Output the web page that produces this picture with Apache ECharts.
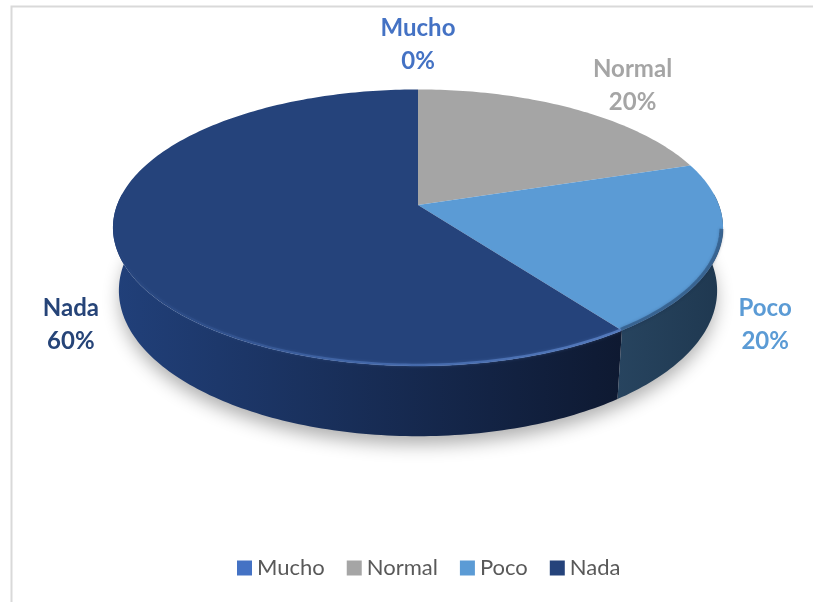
<!DOCTYPE html>
<html>
<head>
<meta charset="utf-8">
<title>Mucho / Normal / Poco / Nada</title>
<script src="https://cdn.jsdelivr.net/npm/echarts@6/dist/echarts.min.js"></script>
<style>
  html, body { margin: 0; padding: 0; background: #ffffff; }
  #chart { width: 813px; height: 602px; }
</style>
</head>
<body>
<div id="chart"></div>
<script>
// Survey answers and their share of responses (percent)
const categories = ['Mucho', 'Normal', 'Poco', 'Nada'];
const values = [0, 20, 20, 60];

// Colours per answer: top face, outer wall (left → right), label
const topColors = ['#4472C4', '#A5A5A5', '#5B9BD5', '#25437B'];
const wallColors = [
  ['#2f4f88', '#22396a'],
  ['#6e6e6e', '#555555'],
  ['#27445f', '#1f3850'],
  ['#21407a', '#0e1931']
];
const labelColors = ['#4472C4', '#A5A5A5', '#5B9BD5', '#264478'];

// Perspective view of a unit disc (tilted camera)
const VIEW = { cx: 418, cy: 205, f: 1640, d: 5.45, sin: 0.447, cos: 0.894, depth: 0.235 };
// Ellipse on which the outside labels sit
const LABEL_RING = { cx: 418, cy: 259, rx: 365, ry: 214 };

const total = values.reduce((a, b) => a + b, 0);

function project(X, Z, H) {
  const dist = VIEW.d - H * VIEW.sin - Z * VIEW.cos;
  return [VIEW.cx + VIEW.f * X / dist, VIEW.cy - VIEW.f * (H * VIEW.cos - Z * VIEW.sin) / dist];
}
// angle in degrees, clockwise from the far side of the disc
function rim(deg, H, r) {
  const t = deg * Math.PI / 180;
  const rr = r == null ? 1 : r;
  return project(rr * Math.sin(t), -rr * Math.cos(t), H);
}
function arc(a, b, H, r) {
  const pts = [];
  const n = Math.max(2, Math.ceil(Math.abs(b - a)));
  for (let k = 0; k <= n; k++) pts.push(rim(a + (b - a) * k / n, H, r));
  return pts;
}

function sliceRange(i, value) {
  let start = 0;
  for (let k = 0; k < i; k++) start += values[k];
  return [start / total * 360, (start + value) / total * 360];
}

function renderSlice(i, api) {
  const value = api.value(0);
  const [a, b] = sliceRange(i, value);
  const children = [];

  if (b - a > 0) {
    // outer wall, only the part that faces the viewer
    const wa = Math.max(a, 85), wb = Math.min(b, 275);
    if (wb > wa) {
      const wall = arc(wa, wb, 0).concat(arc(wb, wa, -VIEW.depth));
      children.push({
        type: 'polygon',
        z2: 1,
        shape: { points: wall },
        style: {
          fill: new echarts.graphic.LinearGradient(0, 0, 1, 0, [
            { offset: 0, color: wallColors[i][0] },
            { offset: 1, color: wallColors[i][1] }
          ])
        }
      });
    }
    // top face
    const top = [project(0, 0, 0)].concat(arc(a, b, 0));
    children.push({
      type: 'polygon',
      z2: 10,
      shape: { points: top },
      style: { fill: topColors[i] }
    });
    // bevel along the front rim
    const ba = Math.max(a, 100), bb = Math.min(b, 268);
    if (bb > ba) {
      const light = i === 3;
      children.push({
        type: 'polyline',
        z2: 11,
        shape: { points: arc(ba, bb, 0, 0.995) },
        style: {
          fill: null,
          lineWidth: light ? 2.5 : 4,
          stroke: light
            ? new echarts.graphic.LinearGradient(1, 0, 0, 0, [
                { offset: 0, color: 'rgba(95,135,205,0.75)' },
                { offset: 0.55, color: 'rgba(80,120,190,0.55)' },
                { offset: 1, color: 'rgba(60,95,160,0.0)' }
              ])
            : 'rgba(30,60,95,0.45)',
          shadowBlur: 3,
          shadowColor: light ? 'rgba(90,130,200,0.5)' : 'rgba(20,40,70,0.5)'
        }
      });
    }
  }

  // outside label: name and share
  const mid = (a + b) / 2 * Math.PI / 180;
  const pct = Math.round(value / total * 100) + '%';
  children.push({
    type: 'text',
    z2: 20,
    x: LABEL_RING.cx + LABEL_RING.rx * Math.sin(mid),
    y: LABEL_RING.cy - LABEL_RING.ry * Math.cos(mid),
    style: {
      text: categories[i] + '\n' + pct,
      fill: labelColors[i],
      fontFamily: 'Lato',
      fontWeight: 'bold',
      fontSize: 24,
      lineHeight: 33,
      align: 'center',
      verticalAlign: 'middle'
    }
  });

  return { type: 'group', children };
}

// soft shadow under the disc
function renderShadow() {
  return {
    type: 'polygon',
    z2: -5,
    shape: { points: arc(0, 360, -VIEW.depth, 0.995) },
    style: {
      fill: '#ffffff',
      shadowBlur: 18,
      shadowOffsetY: 9,
      shadowColor: 'rgba(0,0,0,0.32)'
    }
  };
}

const chart = echarts.init(document.getElementById('chart'), null, { renderer: 'canvas' });

const series = [{
  type: 'custom',
  name: 'base',
  coordinateSystem: 'none',
  silent: true,
  data: [[0]],
  renderItem: renderShadow
}].concat(categories.map((name, i) => ({
  type: 'custom',
  name: name,
  coordinateSystem: 'none',
  data: [[values[i]]],
  itemStyle: { color: topColors[i] },
  renderItem: (params, api) => renderSlice(i, api)
})));

chart.setOption({
  animation: false,
  backgroundColor: '#ffffff',
  graphic: [{
    type: 'rect',
    left: 9,
    top: 4,
    shape: { width: 900, height: 700 },
    style: { fill: null, stroke: '#d9d9d9', lineWidth: 2 },
    silent: true,
    z: -10
  }],
  legend: {
    data: categories,
    left: 232,
    top: 552,
    icon: 'rect',
    itemWidth: 15,
    itemHeight: 15,
    itemGap: 22,
    textStyle: { color: '#595959', fontFamily: 'Lato', fontSize: 22 }
  },
  series: series
});
</script>
</body>
</html>
